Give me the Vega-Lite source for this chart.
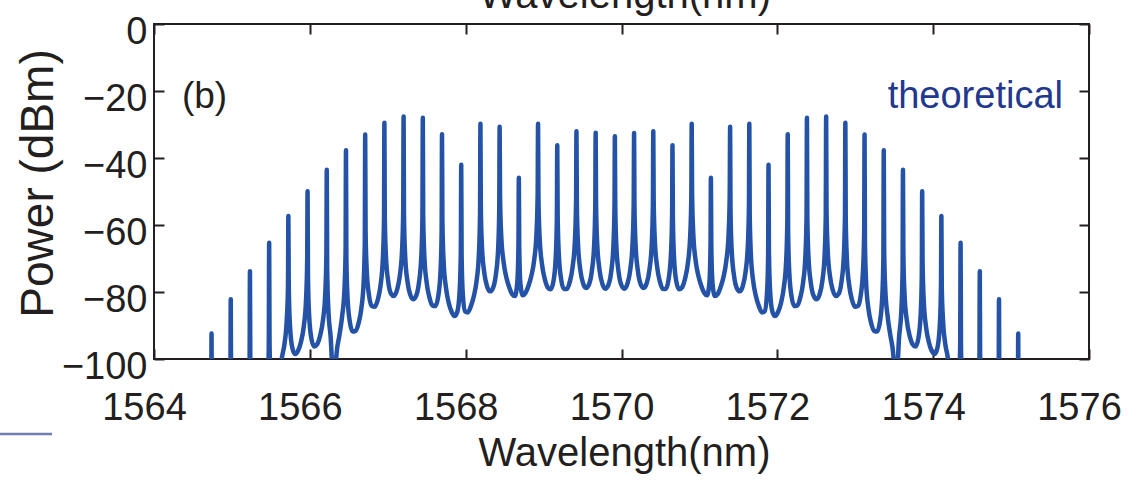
{
  "$schema": "https://vega.github.io/schema/vega-lite/v6.json",
  "width": 935,
  "height": 335,
  "autosize": {"type": "none"},
  "padding": {"left": 154, "top": 24, "right": 43, "bottom": 121},
  "background": "white",
  "config": {
    "view": {"stroke": "#231f20", "strokeWidth": 2},
    "font": "Liberation Sans, Arial, sans-serif",
    "axis": {
      "grid": false,
      "domain": false,
      "tickColor": "#231f20",
      "tickWidth": 2,
      "tickSize": -10,
      "labelColor": "#231f20",
      "titleColor": "#231f20",
      "labelFont": "Liberation Sans, Arial, sans-serif",
      "labelFontSize": 38,
      "labelFlush": false,
      "labelOverlap": false,
      "labelBound": false
    }
  },
  "resolve": {"axis": {"x": "independent", "y": "independent"}},
  "layer": [
    {
      "data": {"values": [
        {"nm":1564.6,"dBm":-140},{"nm":1564.7335,"dBm":-122},{"nm":1564.7385,"dBm":-92.4},{"nm":1564.7435,"dBm":-122},{"nm":1564.8615,"dBm":-140},{"nm":1564.98,"dBm":-112},
        {"nm":1564.985,"dBm":-82.2},{"nm":1564.99,"dBm":-112},{"nm":1565.108,"dBm":-135},{"nm":1565.2265,"dBm":-104},
        {"nm":1565.2315,"dBm":-73.8},{"nm":1565.2365,"dBm":-104},{"nm":1565.2515,"dBm":-117},{"nm":1565.3545,"dBm":-130},{"nm":1565.458,"dBm":-110},{"nm":1565.473,"dBm":-96},
        {"nm":1565.478,"dBm":-65.3},{"nm":1565.483,"dBm":-95},{"nm":1565.498,"dBm":-108},{"nm":1565.58,"dBm":-118},{"nm":1565.6395,"dBm":-100},{"nm":1565.6745,"dBm":-95.5},{"nm":1565.7045,"dBm":-88},{"nm":1565.7195,"dBm":-78.5},
        {"nm":1565.7245,"dBm":-57.3},
        {"nm":1565.7295,"dBm":-77.9},{"nm":1565.7445,"dBm":-89.8},{"nm":1565.7745,"dBm":-96.6},{"nm":1565.8095,"dBm":-98.5},{"nm":1565.8475,"dBm":-97.6},{"nm":1565.886,"dBm":-94.9},{"nm":1565.921,"dBm":-90.5},{"nm":1565.951,"dBm":-82.5},{"nm":1565.966,"dBm":-70.5},
        {"nm":1565.971,"dBm":-49.9},
        {"nm":1565.976,"dBm":-75.1},{"nm":1565.991,"dBm":-87.0},{"nm":1566.021,"dBm":-94.0},{"nm":1566.056,"dBm":-96.3},{"nm":1566.094,"dBm":-95.6},{"nm":1566.1325,"dBm":-93.0},{"nm":1566.1675,"dBm":-88.6},{"nm":1566.1975,"dBm":-80.7},{"nm":1566.2125,"dBm":-68.7},
        {"nm":1566.2175,"dBm":-43.5},
        {"nm":1566.2225,"dBm":-73.2},{"nm":1566.2375,"dBm":-85.1},{"nm":1566.2675,"dBm":-93.5},{"nm":1566.3125,"dBm":-112},{"nm":1566.3405,"dBm":-99},{"nm":1566.379,"dBm":-93},{"nm":1566.414,"dBm":-87.3},{"nm":1566.444,"dBm":-79.4},{"nm":1566.459,"dBm":-67.4},
        {"nm":1566.464,"dBm":-37.7},
        {"nm":1566.469,"dBm":-69.8},{"nm":1566.484,"dBm":-81.7},{"nm":1566.514,"dBm":-89.0},{"nm":1566.549,"dBm":-91.8},{"nm":1566.587,"dBm":-91.6},{"nm":1566.6255,"dBm":-89.3},{"nm":1566.6605,"dBm":-85.0},{"nm":1566.6905,"dBm":-77.1},{"nm":1566.7055,"dBm":-65.1},
        {"nm":1566.7105,"dBm":-33.0},
        {"nm":1566.7155,"dBm":-61.7},{"nm":1566.7305,"dBm":-73.6},{"nm":1566.7605,"dBm":-81.1},{"nm":1566.7955,"dBm":-84.2},{"nm":1566.8335,"dBm":-84.4},{"nm":1566.872,"dBm":-82.3},{"nm":1566.907,"dBm":-78.1},{"nm":1566.937,"dBm":-70.2},{"nm":1566.952,"dBm":-58.2},
        {"nm":1566.957,"dBm":-29.5},
        {"nm":1566.962,"dBm":-57.4},{"nm":1566.977,"dBm":-69.4},{"nm":1567.007,"dBm":-77.0},{"nm":1567.042,"dBm":-80.5},{"nm":1567.08,"dBm":-81.2},{"nm":1567.1185,"dBm":-79.4},{"nm":1567.1535,"dBm":-75.4},{"nm":1567.1835,"dBm":-67.6},{"nm":1567.1985,"dBm":-55.5},
        {"nm":1567.2035,"dBm":-27.6},
        {"nm":1567.2085,"dBm":-57.2},{"nm":1567.2235,"dBm":-69.2},{"nm":1567.2535,"dBm":-76.9},{"nm":1567.2885,"dBm":-80.8},{"nm":1567.3265,"dBm":-82.2},{"nm":1567.365,"dBm":-81.1},{"nm":1567.4,"dBm":-77.3},{"nm":1567.43,"dBm":-69.6},{"nm":1567.445,"dBm":-57.6},
        {"nm":1567.45,"dBm":-28.0},
        {"nm":1567.455,"dBm":-57.4},{"nm":1567.47,"dBm":-69.4},{"nm":1567.5,"dBm":-77.3},{"nm":1567.535,"dBm":-81.6},{"nm":1567.573,"dBm":-84.0},{"nm":1567.6115,"dBm":-84.2},{"nm":1567.6465,"dBm":-81.5},{"nm":1567.6765,"dBm":-74.2},{"nm":1567.6915,"dBm":-62.3},
        {"nm":1567.6965,"dBm":-32.9},
        {"nm":1567.7015,"dBm":-58.6},{"nm":1567.7165,"dBm":-70.7},{"nm":1567.7465,"dBm":-78.6},{"nm":1567.7815,"dBm":-83.1},{"nm":1567.8195,"dBm":-85.9},{"nm":1567.858,"dBm":-87.2},{"nm":1567.893,"dBm":-85.9},{"nm":1567.923,"dBm":-79.5},{"nm":1567.938,"dBm":-67.7},
        {"nm":1567.943,"dBm":-42.0},
        {"nm":1567.948,"dBm":-68.95},{"nm":1567.963,"dBm":-80.5},{"nm":1567.993,"dBm":-85.8},{"nm":1568.028,"dBm":-86.1},{"nm":1568.066,"dBm":-84.3},{"nm":1568.1045,"dBm":-81.3},{"nm":1568.1395,"dBm":-76.8},{"nm":1568.1695,"dBm":-68.8},{"nm":1568.1845,"dBm":-56.8},
        {"nm":1568.1895,"dBm":-29.8},
        {"nm":1568.1945,"dBm":-54.6},{"nm":1568.2095,"dBm":-66.6},{"nm":1568.2395,"dBm":-74.3},{"nm":1568.2745,"dBm":-78.3},{"nm":1568.3125,"dBm":-79.8},{"nm":1568.351,"dBm":-78.8},{"nm":1568.386,"dBm":-75.1},{"nm":1568.416,"dBm":-67.5},{"nm":1568.431,"dBm":-55.5},
        {"nm":1568.436,"dBm":-30.7},
        {"nm":1568.441,"dBm":-50.9},{"nm":1568.456,"dBm":-63.0},{"nm":1568.486,"dBm":-70.9},{"nm":1568.521,"dBm":-75.5},{"nm":1568.559,"dBm":-78.6},{"nm":1568.5975,"dBm":-80.7},{"nm":1568.6325,"dBm":-81.2},{"nm":1568.6625,"dBm":-77.2},{"nm":1568.6775,"dBm":-66.1},
        {"nm":1568.6825,"dBm":-45.9},
        {"nm":1568.6875,"dBm":-66.5},{"nm":1568.7025,"dBm":-77.4},{"nm":1568.7325,"dBm":-81.0},{"nm":1568.7675,"dBm":-80.3},{"nm":1568.8055,"dBm":-78.2},{"nm":1568.844,"dBm":-75.1},{"nm":1568.879,"dBm":-70.5},{"nm":1568.909,"dBm":-62.5},{"nm":1568.924,"dBm":-50.5},
        {"nm":1568.929,"dBm":-29.8},
        {"nm":1568.934,"dBm":-51.6},{"nm":1568.949,"dBm":-63.7},{"nm":1568.979,"dBm":-71.6},{"nm":1569.014,"dBm":-76.0},{"nm":1569.052,"dBm":-78.6},{"nm":1569.0905,"dBm":-79.2},{"nm":1569.1255,"dBm":-77.0},{"nm":1569.1555,"dBm":-69.9},{"nm":1569.1705,"dBm":-58.0},
        {"nm":1569.1755,"dBm":-36.2},
        {"nm":1569.1805,"dBm":-56.9},{"nm":1569.1955,"dBm":-68.8},{"nm":1569.2255,"dBm":-76.2},{"nm":1569.2605,"dBm":-79.1},{"nm":1569.2985,"dBm":-79.1},{"nm":1569.337,"dBm":-76.9},{"nm":1569.372,"dBm":-72.6},{"nm":1569.402,"dBm":-64.7},{"nm":1569.417,"dBm":-52.7},
        {"nm":1569.422,"dBm":-32.0},
        {"nm":1569.427,"dBm":-53.75},{"nm":1569.442,"dBm":-65.8},{"nm":1569.472,"dBm":-73.5},{"nm":1569.507,"dBm":-77.4},{"nm":1569.545,"dBm":-78.8},{"nm":1569.5835,"dBm":-77.7},{"nm":1569.6185,"dBm":-73.9},{"nm":1569.6485,"dBm":-66.25},{"nm":1569.6635,"dBm":-54.25},
        {"nm":1569.6685,"dBm":-32.5},
        {"nm":1569.6735,"dBm":-53.7},{"nm":1569.6885,"dBm":-65.7},{"nm":1569.7185,"dBm":-73.5},{"nm":1569.7535,"dBm":-77.5},{"nm":1569.7915,"dBm":-79.0},{"nm":1569.83,"dBm":-78.0},{"nm":1569.865,"dBm":-74.4},{"nm":1569.895,"dBm":-66.7},{"nm":1569.91,"dBm":-54.7},
        {"nm":1569.915,"dBm":-33.5},
        {"nm":1569.92,"dBm":-54.7},{"nm":1569.935,"dBm":-66.7},{"nm":1569.965,"dBm":-74.4},{"nm":1570.0,"dBm":-78.0},{"nm":1570.0385,"dBm":-79.0},{"nm":1570.0765,"dBm":-77.5},{"nm":1570.1115,"dBm":-73.5},{"nm":1570.1415,"dBm":-65.7},{"nm":1570.1565,"dBm":-53.7},
        {"nm":1570.1615,"dBm":-32.5},
        {"nm":1570.1665,"dBm":-54.25},{"nm":1570.1815,"dBm":-66.25},{"nm":1570.2115,"dBm":-73.9},{"nm":1570.2465,"dBm":-77.7},{"nm":1570.285,"dBm":-78.8},{"nm":1570.323,"dBm":-77.4},{"nm":1570.358,"dBm":-73.5},{"nm":1570.388,"dBm":-65.8},{"nm":1570.403,"dBm":-53.75},
        {"nm":1570.408,"dBm":-32.0},
        {"nm":1570.413,"dBm":-52.7},{"nm":1570.428,"dBm":-64.7},{"nm":1570.458,"dBm":-72.6},{"nm":1570.493,"dBm":-76.9},{"nm":1570.5315,"dBm":-79.1},{"nm":1570.5695,"dBm":-79.1},{"nm":1570.6045,"dBm":-76.2},{"nm":1570.6345,"dBm":-68.8},{"nm":1570.6495,"dBm":-56.9},
        {"nm":1570.6545,"dBm":-36.2},
        {"nm":1570.6595,"dBm":-58.0},{"nm":1570.6745,"dBm":-69.9},{"nm":1570.7045,"dBm":-77.0},{"nm":1570.7395,"dBm":-79.2},{"nm":1570.778,"dBm":-78.6},{"nm":1570.816,"dBm":-76.0},{"nm":1570.851,"dBm":-71.6},{"nm":1570.881,"dBm":-63.7},{"nm":1570.896,"dBm":-51.6},
        {"nm":1570.901,"dBm":-29.8},
        {"nm":1570.906,"dBm":-50.5},{"nm":1570.921,"dBm":-62.5},{"nm":1570.951,"dBm":-70.5},{"nm":1570.986,"dBm":-75.1},{"nm":1571.0245,"dBm":-78.2},{"nm":1571.0625,"dBm":-80.3},{"nm":1571.0975,"dBm":-81.0},{"nm":1571.1275,"dBm":-77.4},{"nm":1571.1425,"dBm":-66.5},
        {"nm":1571.1475,"dBm":-45.9},
        {"nm":1571.1525,"dBm":-66.1},{"nm":1571.1675,"dBm":-77.2},{"nm":1571.1975,"dBm":-81.2},{"nm":1571.2325,"dBm":-80.7},{"nm":1571.271,"dBm":-78.6},{"nm":1571.309,"dBm":-75.5},{"nm":1571.344,"dBm":-70.9},{"nm":1571.374,"dBm":-63.0},{"nm":1571.389,"dBm":-50.9},
        {"nm":1571.394,"dBm":-30.7},
        {"nm":1571.399,"dBm":-55.5},{"nm":1571.414,"dBm":-67.5},{"nm":1571.444,"dBm":-75.1},{"nm":1571.479,"dBm":-78.8},{"nm":1571.5175,"dBm":-79.8},{"nm":1571.5555,"dBm":-78.3},{"nm":1571.5905,"dBm":-74.3},{"nm":1571.6205,"dBm":-66.6},{"nm":1571.6355,"dBm":-54.6},
        {"nm":1571.6405,"dBm":-29.8},
        {"nm":1571.6455,"dBm":-56.8},{"nm":1571.6605,"dBm":-68.8},{"nm":1571.6905,"dBm":-76.8},{"nm":1571.7255,"dBm":-81.3},{"nm":1571.764,"dBm":-84.3},{"nm":1571.802,"dBm":-86.1},{"nm":1571.837,"dBm":-85.8},{"nm":1571.867,"dBm":-80.5},{"nm":1571.882,"dBm":-68.95},
        {"nm":1571.887,"dBm":-42.0},
        {"nm":1571.892,"dBm":-67.7},{"nm":1571.907,"dBm":-79.5},{"nm":1571.937,"dBm":-85.9},{"nm":1571.972,"dBm":-87.2},{"nm":1572.0105,"dBm":-85.9},{"nm":1572.0485,"dBm":-83.1},{"nm":1572.0835,"dBm":-78.6},{"nm":1572.1135,"dBm":-70.7},{"nm":1572.1285,"dBm":-58.6},
        {"nm":1572.1335,"dBm":-32.9},
        {"nm":1572.1385,"dBm":-62.3},{"nm":1572.1535,"dBm":-74.2},{"nm":1572.1835,"dBm":-81.5},{"nm":1572.2185,"dBm":-84.2},{"nm":1572.257,"dBm":-84.0},{"nm":1572.295,"dBm":-81.6},{"nm":1572.33,"dBm":-77.3},{"nm":1572.36,"dBm":-69.4},{"nm":1572.375,"dBm":-57.4},
        {"nm":1572.38,"dBm":-28.0},
        {"nm":1572.385,"dBm":-57.6},{"nm":1572.4,"dBm":-69.6},{"nm":1572.43,"dBm":-77.3},{"nm":1572.465,"dBm":-81.1},{"nm":1572.5035,"dBm":-82.2},{"nm":1572.5415,"dBm":-80.8},{"nm":1572.5765,"dBm":-76.9},{"nm":1572.6065,"dBm":-69.2},{"nm":1572.6215,"dBm":-57.2},
        {"nm":1572.6265,"dBm":-27.6},
        {"nm":1572.6315,"dBm":-55.5},{"nm":1572.6465,"dBm":-67.6},{"nm":1572.6765,"dBm":-75.4},{"nm":1572.7115,"dBm":-79.4},{"nm":1572.75,"dBm":-81.2},{"nm":1572.788,"dBm":-80.5},{"nm":1572.823,"dBm":-77.0},{"nm":1572.853,"dBm":-69.4},{"nm":1572.868,"dBm":-57.4},
        {"nm":1572.873,"dBm":-29.5},
        {"nm":1572.878,"dBm":-58.2},{"nm":1572.893,"dBm":-70.2},{"nm":1572.923,"dBm":-78.1},{"nm":1572.958,"dBm":-82.3},{"nm":1572.9965,"dBm":-84.4},{"nm":1573.0345,"dBm":-84.2},{"nm":1573.0695,"dBm":-81.1},{"nm":1573.0995,"dBm":-73.6},{"nm":1573.1145,"dBm":-61.7},
        {"nm":1573.1195,"dBm":-33.0},
        {"nm":1573.1245,"dBm":-65.1},{"nm":1573.1395,"dBm":-77.1},{"nm":1573.1695,"dBm":-85.0},{"nm":1573.2045,"dBm":-89.3},{"nm":1573.243,"dBm":-91.6},{"nm":1573.281,"dBm":-91.8},{"nm":1573.316,"dBm":-89.0},{"nm":1573.346,"dBm":-81.7},{"nm":1573.361,"dBm":-69.8},
        {"nm":1573.366,"dBm":-37.7},
        {"nm":1573.371,"dBm":-67.4},{"nm":1573.386,"dBm":-79.4},{"nm":1573.416,"dBm":-87.3},{"nm":1573.451,"dBm":-93},{"nm":1573.4895,"dBm":-99},{"nm":1573.5175,"dBm":-112},{"nm":1573.5625,"dBm":-93.5},{"nm":1573.5925,"dBm":-85.1},{"nm":1573.6075,"dBm":-73.2},
        {"nm":1573.6125,"dBm":-43.5},
        {"nm":1573.6175,"dBm":-68.7},{"nm":1573.6325,"dBm":-80.7},{"nm":1573.6625,"dBm":-88.6},{"nm":1573.6975,"dBm":-93.0},{"nm":1573.736,"dBm":-95.6},{"nm":1573.774,"dBm":-96.3},{"nm":1573.809,"dBm":-94.0},{"nm":1573.839,"dBm":-87.0},{"nm":1573.854,"dBm":-75.1},
        {"nm":1573.859,"dBm":-49.9},
        {"nm":1573.864,"dBm":-70.5},{"nm":1573.879,"dBm":-82.5},{"nm":1573.909,"dBm":-90.5},{"nm":1573.944,"dBm":-94.9},{"nm":1573.9825,"dBm":-97.6},{"nm":1574.0205,"dBm":-98.5},{"nm":1574.0555,"dBm":-96.6},{"nm":1574.0855,"dBm":-89.8},{"nm":1574.1005,"dBm":-77.9},
        {"nm":1574.1055,"dBm":-57.3},
        {"nm":1574.1105,"dBm":-78.5},{"nm":1574.1255,"dBm":-88},{"nm":1574.1555,"dBm":-95.5},{"nm":1574.1905,"dBm":-100},{"nm":1574.25,"dBm":-118},{"nm":1574.332,"dBm":-108},{"nm":1574.347,"dBm":-95},
        {"nm":1574.352,"dBm":-65.3},
        {"nm":1574.357,"dBm":-96},{"nm":1574.372,"dBm":-110},{"nm":1574.4755,"dBm":-130},{"nm":1574.5785,"dBm":-117},{"nm":1574.5935,"dBm":-104},
        {"nm":1574.5985,"dBm":-73.8},
        {"nm":1574.6035,"dBm":-104},{"nm":1574.722,"dBm":-135},{"nm":1574.84,"dBm":-112},
        {"nm":1574.845,"dBm":-82.2},
        {"nm":1574.85,"dBm":-112},{"nm":1574.9685,"dBm":-140},{"nm":1575.0865,"dBm":-122},
        {"nm":1575.0915,"dBm":-92.4},
        {"nm":1575.0965,"dBm":-122},{"nm":1575.23,"dBm":-140}
      ]},
      "mark": {"type": "line", "clip": true, "interpolate": "monotone", "color": "#2352a6", "strokeWidth": 4.5, "strokeCap": "round", "strokeJoin": "round"},
      "encoding": {
        "x": {
          "field": "nm", "type": "quantitative",
          "scale": {"domain": [1564, 1576], "nice": false, "zero": false},
          "axis": {
            "orient": "bottom",
            "values": [1564, 1566, 1568, 1570, 1572, 1574, 1576],
            "format": "d",
            "labelPadding": 40,
            "labelOffset": -10,
            "title": "Wavelength(nm)",
            "titleFont": "Liberation Sans, Arial, sans-serif",
            "titleFontSize": 40,
            "titleFontWeight": "normal",
            "titleX": 470,
            "titleY": 106,
            "titleBaseline": "alphabetic",
            "titleAlign": "center",
            "titleAnchor": null
          }
        },
        "y": {
          "field": "dBm", "type": "quantitative",
          "scale": {"domain": [-100, 0], "nice": false, "zero": false},
          "axis": {
            "orient": "left",
            "values": [0, -20, -40, -60, -80, -100],
            "labelPadding": 17,
            "labelOffset": 8,
            "title": "Power (dBm)",
            "titleFont": "Liberation Sans, Arial, sans-serif",
            "titleFontSize": 46,
            "titleFontWeight": "normal",
            "titleAngle": 270,
            "titleX": -116,
            "titleY": 159,
            "titleBaseline": "middle",
            "titleAlign": "center",
            "titleAnchor": null
          }
        }
      }
    },
    {
      "data": {"values": [{"nm": 1564.359, "dBm": -25.07, "label": "(b)"}]},
      "mark": {"type": "text", "align": "left", "baseline": "alphabetic", "fontSize": 37, "color": "#231f20", "font": "Liberation Sans, Arial, sans-serif"},
      "encoding": {
        "x": {"field": "nm", "type": "quantitative", "scale": {"domain": [1564, 1576], "nice": false, "zero": false},
              "axis": {"orient": "top", "labels": false, "title": null, "values": [1564, 1566, 1568, 1570, 1572, 1574, 1576]}},
        "y": {"field": "dBm", "type": "quantitative", "scale": {"domain": [-100, 0], "nice": false, "zero": false},
              "axis": {"orient": "right", "labels": false, "title": null, "values": [0, -20, -40, -60, -80, -100]}},
        "text": {"field": "label"}
      }
    },
    {
      "data": {"values": [{"nm": 1575.666, "dBm": -25.07, "label": "theoretical"}]},
      "mark": {"type": "text", "align": "right", "baseline": "alphabetic", "fontSize": 38, "color": "#22388f", "font": "Liberation Sans, Arial, sans-serif"},
      "encoding": {
        "x": {"field": "nm", "type": "quantitative", "scale": {"domain": [1564, 1576], "nice": false, "zero": false}, "axis": null},
        "y": {"field": "dBm", "type": "quantitative", "scale": {"domain": [-100, 0], "nice": false, "zero": false}, "axis": null},
        "text": {"field": "label"}
      }
    },
    {
      "data": {"values": [{"nm": 1570.045, "dBm": 4.78, "label": "Wavelength(nm)"}]},
      "mark": {"type": "text", "align": "center", "baseline": "alphabetic", "fontSize": 40, "color": "#231f20", "font": "Liberation Sans, Arial, sans-serif"},
      "encoding": {
        "x": {"field": "nm", "type": "quantitative", "scale": {"domain": [1564, 1576], "nice": false, "zero": false}, "axis": null},
        "y": {"field": "dBm", "type": "quantitative", "scale": {"domain": [-100, 0], "nice": false, "zero": false}, "axis": null},
        "text": {"field": "label"}
      }
    },
    {
      "data": {"values": [{"nm": 1562.0, "nm2": 1562.691, "dBm": -122.4}]},
      "mark": {"type": "rule", "color": "#6f7fb0", "strokeWidth": 2.5},
      "encoding": {
        "x": {"field": "nm", "type": "quantitative", "scale": {"domain": [1564, 1576], "nice": false, "zero": false}, "axis": null},
        "x2": {"field": "nm2"},
        "y": {"field": "dBm", "type": "quantitative", "scale": {"domain": [-100, 0], "nice": false, "zero": false}, "axis": null}
      }
    }
  ]
}
